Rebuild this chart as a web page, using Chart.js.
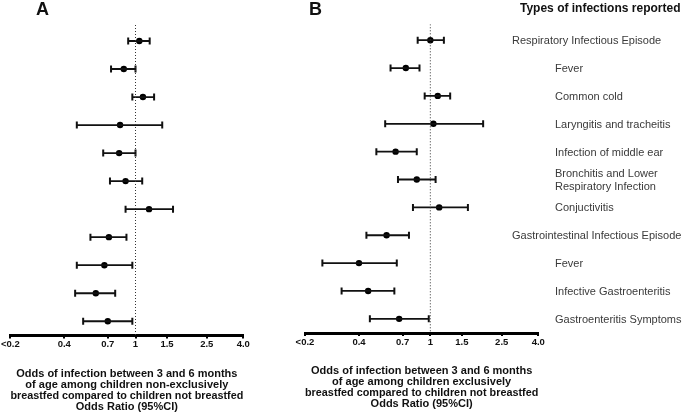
<!DOCTYPE html>
<html>
<head>
<meta charset="utf-8">
<script src="https://cdn.jsdelivr.net/npm/chart.js@4.4.1/dist/chart.umd.min.js"></script>
<style>
  body { margin: 0; background: #fff; }
  #wrap { position: relative; width: 685px; height: 419px; }
  canvas { position: absolute; top: 0; }
</style>
</head>
<body>
<div id="wrap">
  <canvas id="chartA" width="270" height="419" style="left:0"></canvas>
  <canvas id="chartB" width="415" height="419" style="left:270px"></canvas>
</div>
<script>
// infection types, top to bottom (level 0 = episode header, 1 = sub-type)
const categories = [
  'Respiratory Infectious Episode', 'Fever', 'Common cold',
  'Laryngitis and tracheitis', 'Infection of middle ear',
  'Bronchitis and Lower\nRespiratory Infection', 'Conjuctivitis',
  'Gastrointestinal Infectious Episode', 'Fever',
  'Infective Gastroenteritis', 'Gastroenteritis Symptoms'
];
const levels = [0, 1, 1, 1, 1, 1, 1, 0, 1, 1, 1];

// A: non-exclusively breastfed vs not breastfed
const orA = [1.05, 0.86, 1.10, 0.82, 0.81, 0.88, 1.19, 0.71, 0.67, 0.60, 0.70];
const loA = [0.91, 0.73, 0.96, 0.47, 0.66, 0.72, 0.88, 0.56, 0.47, 0.46, 0.51];
const hiA = [1.20, 1.00, 1.27, 1.41, 1.00, 1.09, 1.62, 0.89, 0.96, 0.77, 0.96];

// B: exclusively breastfed vs not breastfed
const orB = [1.00, 0.73, 1.10, 1.04, 0.64, 0.84, 1.12, 0.57, 0.40, 0.45, 0.67];
const loB = [0.85, 0.60, 0.93, 0.56, 0.50, 0.66, 0.80, 0.44, 0.25, 0.32, 0.46];
const hiB = [1.19, 0.87, 1.29, 1.97, 0.84, 1.07, 1.62, 0.76, 0.65, 0.63, 0.98];

const tickValues = [0.2, 0.4, 0.7, 1, 1.5, 2.5, 4];
const tickLabels = ['<0.2', '0.4', '0.7', '1', '1.5', '2.5', '4.0'];

const titleA = ['Odds of infection between 3 and 6 months',
  'of age among children non-exclusively',
  'breastfed compared to children not breastfed', 'Odds Ratio (95%CI)'];
const titleB = ['Odds of infection between 3 and 6 months',
  'of age among children exclusively',
  'breastfed compared to children not breastfed', 'Odds Ratio (95%CI)'];

const FONT = '"Liberation Sans", Arial, sans-serif';
Chart.defaults.font.family = FONT;
const Y_MIN = -0.57, Y_MAX = 10.51;

function buildDatasets(or, lo, hi) {
  const sets = [];
  sets.push({
    data: [{ x: 1, y: Y_MIN }, { x: 1, y: Y_MAX }],
    showLine: true, borderColor: '#333', borderWidth: 1,
    borderDash: [1, 2], pointRadius: 0
  });
  lo.forEach((l, i) => {
    sets.push({
      data: [{ x: l, y: i }, { x: hi[i], y: i }],
      showLine: true, borderColor: '#111', borderWidth: 1.8, pointRadius: 0
    });
  });
  sets.push({
    data: lo.map((l, i) => ({ x: l, y: i })).concat(hi.map((h, i) => ({ x: h, y: i }))),
    pointStyle: 'line', rotation: 90, pointRadius: 3.5,
    borderColor: '#111', borderWidth: 2
  });
  sets.push({
    data: or.map((v, i) => ({ x: v, y: i })),
    pointStyle: 'circle', pointRadius: 3.2,
    backgroundColor: '#000', borderColor: '#000', borderWidth: 0
  });
  return sets;
}

function buildOptions(title, padding) {
  return {
    responsive: false,
    animation: false,
    layout: { padding: padding },
    plugins: { legend: { display: false }, tooltip: { enabled: false } },
    scales: {
      x: {
        type: 'logarithmic', min: 0.2, max: 4,
        afterBuildTicks: axis => { axis.ticks = tickValues.map(v => ({ value: v })); },
        grid: { drawOnChartArea: false, drawTicks: true, tickLength: 3, color: '#000', lineWidth: 2 },
        border: { display: true, color: '#000', width: 3 },
        ticks: {
          autoSkip: false, maxRotation: 0, padding: 1, color: '#111',
          font: { size: 9.5, weight: 'bold', lineHeight: 1.1 },
          callback: (v, i) => tickLabels[i]
        },
        title: {
          display: true, text: title, color: '#111',
          font: { size: 11, weight: 'bold', lineHeight: 1.0 },
          padding: { top: 17, bottom: 4 }
        }
      },
      y: { type: 'linear', reverse: true, min: Y_MIN, max: Y_MAX, display: false }
    }
  };
}

function letterPlugin(letter, x) {
  return {
    id: 'letter' + letter,
    afterDraw(chart) {
      const ctx = chart.ctx;
      ctx.save();
      ctx.fillStyle = '#111';
      ctx.font = 'bold 18px ' + FONT;
      ctx.textBaseline = 'alphabetic';
      ctx.fillText(letter, x, 15);
      ctx.restore();
    }
  };
}

const labelPlugin = {
  id: 'rowLabels',
  afterDraw(chart) {
    const ctx = chart.ctx;
    const y = chart.scales.y;
    ctx.save();
    ctx.fillStyle = '#111';
    ctx.font = 'bold 12px ' + FONT;
    ctx.textBaseline = 'middle';
    ctx.fillText('Types of infections reported', 250, 9);
    ctx.fillStyle = '#3a3a3a';
    ctx.font = '11px ' + FONT;
    categories.forEach((c, i) => {
      const lines = c.split('\n');
      const x = levels[i] ? 285 : 242;
      const yc = y.getPixelForValue(i) + 1;
      lines.forEach((ln, k) => {
        ctx.fillText(ln, x, yc + (k - (lines.length - 1) / 2) * 12.4);
      });
    });
    ctx.restore();
  }
};

new Chart(document.getElementById('chartA'), {
  type: 'scatter',
  data: { datasets: buildDatasets(orA, loA, hiA) },
  options: buildOptions(titleA, { left: 10, right: 26.7, top: 25, bottom: 3 }),
  plugins: [letterPlugin('A', 36)]
});

new Chart(document.getElementById('chartB'), {
  type: 'scatter',
  data: { datasets: buildDatasets(orB, loB, hiB) },
  options: buildOptions(titleB, { left: 35, right: 146.7, top: 24.3, bottom: 5.5 }),
  plugins: [letterPlugin('B', 39), labelPlugin]
});
</script>
</body>
</html>
